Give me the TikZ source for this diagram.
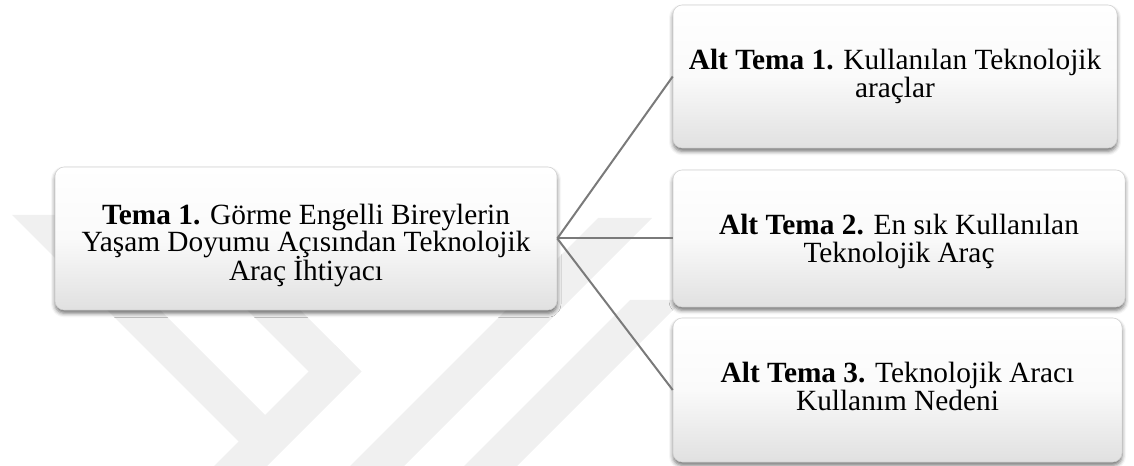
\documentclass[tikz,border=0pt]{standalone}
\usepackage{fontspec}
\setmainfont{Liberation Serif}
\usetikzlibrary{shadows.blur}
\newdimen\px \px=0.75pt
\setlength{\lineskiplimit}{-20pt}

\begin{document}
\begin{tikzpicture}[x=0.75pt, y=-0.75pt,
	kutu/.style={rounded corners=7pt, draw=black!18, line width=0.4pt,
		top color=white, bottom color=black!12, middle color=black!2,
		blur shadow={shadow xshift=0pt, shadow yshift=-2.5pt, shadow blur radius=3pt, shadow opacity=55},
		align=center, inner sep=0pt, font=\fontsize{22}{21}\selectfont},
	bag/.style={draw=black!52, line width=1.5pt},
	filigran/.style={fill=black!6}]
	\useasboundingbox (0,0) rectangle (1134,466);

	% soluk filigran
	\fill[filigran] (12,215) -- (65,215) -- (275,425) -- (248.5,451.5) -- cycle;
	\fill[filigran] (152,215) -- (205,215) -- (345,355) -- (318.5,381.5) -- cycle;
	\fill[filigran] (214,466) -- (267,466) -- (361.5,371.5) -- (335,345) -- cycle;
	\fill[filigran] (350,466) -- (404,466) -- (652,218) -- (598,218) -- cycle;
	\fill[filigran] (464,466) -- (517,466) -- (683,300) -- (630,300) -- cycle;

	\node[kutu, minimum width=502\px, minimum height=143\px] (tema) at (306,238.5)
		{\rule{0pt}{25pt}\textbf{Tema 1.} Görme Engelli Bireylerin\\Yaşam Doyumu Açısından Teknolojik\\Araç İhtiyacı};
	\node[kutu, minimum width=444\px, minimum height=143\px] (alt1) at (895,76.5)
		{\textbf{Alt Tema 1.} Kullanılan Teknolojik\\araçlar};
	\node[kutu, minimum width=452\px, minimum height=137\px] (alt2) at (899,238.5)
		{\rule{0pt}{20pt}\textbf{Alt Tema 2.} En sık Kullanılan\\Teknolojik Araç};
	\node[kutu, minimum width=449\px, minimum height=144\px] (alt3) at (897.5,390)
		{\textbf{Alt Tema 3.} Teknolojik Aracı\\Kullanım Nedeni\rule[-6pt]{0pt}{6pt}};

	\draw[bag] (tema.east) -- (alt1.west);
	\draw[bag] (tema.east) -- (alt2.west);
	\draw[bag] (tema.east) -- (alt3.west);
\end{tikzpicture}
\end{document}
